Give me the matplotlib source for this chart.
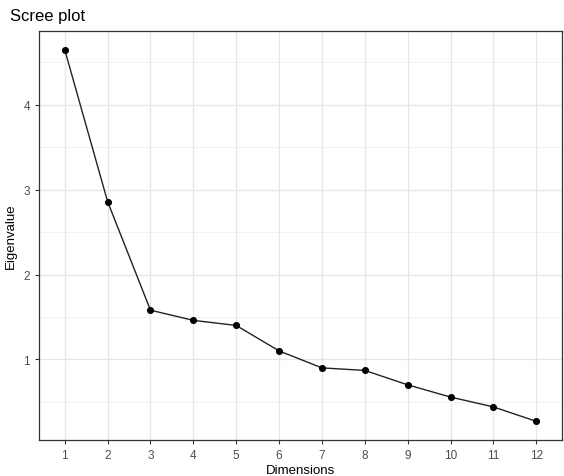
import matplotlib
matplotlib.use("Agg")
import matplotlib.pyplot as plt
from matplotlib.ticker import MultipleLocator

plt.rcParams['font.family'] = ['Liberation Sans', 'DejaVu Sans']

dimensions = list(range(1, 13))
eigenvalues = [4.65, 2.86, 1.58, 1.46, 1.40, 1.10, 0.90, 0.87, 0.70, 0.556, 0.44, 0.27]
y_ticks = [1, 2, 3, 4]

W, H = 564, 477
fig = plt.figure(figsize=(W / 100, H / 100), dpi=100)
left, right, top, bottom = 39, 562, 32, 441
ax = fig.add_axes([left / W, 1 - bottom / H, (right - left) / W, (bottom - top) / H])

ax.plot(dimensions, eigenvalues, color='#222222', lw=1.0, zorder=3)
ax.scatter(dimensions, eigenvalues, s=26, color='black', zorder=4, linewidths=0)

ax.set_xlim(0.4, 12.6)
ax.set_ylim(0.05, 4.87)
ax.set_xticks(dimensions)
ax.set_yticks(y_ticks)
ax.yaxis.set_minor_locator(MultipleLocator(0.5))
ax.grid(which='major', color='#E6E6E6', lw=0.9)
ax.grid(which='minor', axis='y', color='#F0F0F0', lw=0.6)
ax.tick_params(which='minor', length=0)
ax.set_axisbelow(True)
ax.tick_params(which='major', colors='#333333', labelcolor='#4D4D4D', labelsize=8.5, length=3, width=0.8)
for s in ax.spines.values():
    s.set_color('#333333')
    s.set_linewidth(0.9)

ax.set_xlabel('Dimensions', fontsize=9.5, color='black', labelpad=2)
ax.set_ylabel('Eigenvalue', fontsize=9.5, color='black', labelpad=5)
fig.text(10 / W, 1 - 17 / H, 'Scree plot', fontsize=12, va='center', ha='left')

fig.savefig('out.png', dpi=100)
